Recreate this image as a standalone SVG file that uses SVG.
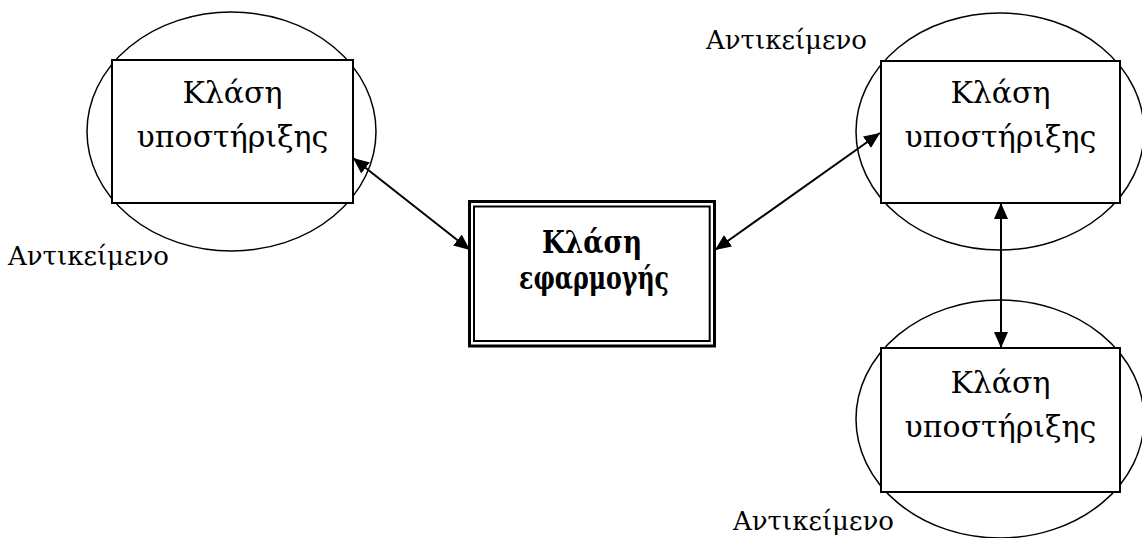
<svg xmlns="http://www.w3.org/2000/svg" width="1142" height="538" viewBox="0 0 1142 538">
  <style>
    .obj { fill: none; stroke: #000; stroke-width: 1.5; }
    .cls { fill: #fff; stroke: #000; stroke-width: 2; }
    .name { font-family: "DejaVu Serif", "Liberation Serif", serif; font-size: 30px; text-anchor: middle; fill: #000; }
    .bold { font-weight: bold; font-size: 31px; }
    .tag { font-family: "DejaVu Serif", "Liberation Serif", serif; font-size: 26px; fill: #000; }
    .link { stroke: #000; stroke-width: 2; fill: none; marker-start: url(#head); marker-end: url(#head); }
  </style>
  <defs>
    <marker id="head" viewBox="0 0 16 14" refX="16" refY="7" markerWidth="16" markerHeight="14" markerUnits="userSpaceOnUse" orient="auto-start-reverse">
      <path d="M0,0 L16,7 L0,14 Z" fill="#000"/>
    </marker>
  </defs>
  <rect width="1142" height="538" fill="#fff"/>

  <!-- support object, left -->
  <g id="support-left">
    <ellipse class="obj" cx="231.5" cy="131.5" rx="144.5" ry="119.5"/>
    <rect class="cls" x="112" y="60" width="241" height="143"/>
    <text class="name" x="232.5" y="103">Κλάση</text>
    <text class="name" x="232.5" y="147">υποστήριξης</text>
    <text class="tag" x="8" y="265">Αντικείμενο</text>
  </g>

  <!-- application class, centre -->
  <g id="application">
    <rect x="469.5" y="201.5" width="245" height="144.5" fill="#fff" stroke="#000" stroke-width="3"/>
    <rect x="474" y="206.5" width="235.7" height="134.5" fill="none" stroke="#000" stroke-width="2"/>
    <text class="name bold" x="592" y="253" textLength="100" lengthAdjust="spacingAndGlyphs">Κλάση</text>
    <text class="name bold" x="594" y="289" textLength="150" lengthAdjust="spacingAndGlyphs">εφαρμογής</text>
  </g>

  <!-- support object, top right -->
  <g id="support-top-right">
    <ellipse class="obj" cx="1000" cy="131.5" rx="144" ry="118.5"/>
    <rect class="cls" x="881" y="61" width="239" height="142"/>
    <text class="name" x="1000.5" y="103">Κλάση</text>
    <text class="name" x="1000.5" y="147">υποστήριξης</text>
    <text class="tag" x="706" y="49">Αντικείμενο</text>
  </g>

  <!-- support object, bottom right -->
  <g id="support-bottom-right">
    <ellipse class="obj" cx="1000" cy="419" rx="144" ry="119"/>
    <rect class="cls" x="881" y="348" width="239" height="144"/>
    <text class="name" x="1000.5" y="393">Κλάση</text>
    <text class="name" x="1000.5" y="437">υποστήριξης</text>
    <text class="tag" x="733" y="530">Αντικείμενο</text>
  </g>

  <!-- associations -->
  <g id="connectors">
    <line class="link" x1="353" y1="158" x2="470" y2="250"/>
    <line class="link" x1="880" y1="133" x2="715" y2="250"/>
    <line class="link" x1="1001" y1="203" x2="1001" y2="348"/>
  </g>
</svg>
